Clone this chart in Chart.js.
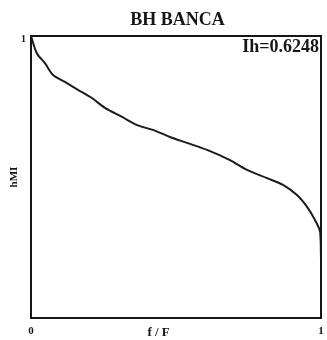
<!DOCTYPE html>
<html>
<head>
<meta charset="utf-8">
<script src="https://cdn.jsdelivr.net/npm/chart.js@4"></script>
<style>
html,body{margin:0;padding:0;background:#fff;}
#wrap{width:327px;height:340px;}
</style>
</head>
<body>
<div id="wrap"><canvas id="c" width="327" height="340"></canvas></div>
<script>
const titleText = "BH BANCA";
const annotationText = "Ih=0.6248";
const xLabel = "f / F";
const yLabel = "hMI";
const xTicks = [0, 1];
const yTicks = [1];
const xValues = [0, 0.02, 0.048, 0.076, 0.117, 0.162, 0.21, 0.255, 0.314, 0.366, 0.42, 0.479, 0.538, 0.607, 0.686, 0.745, 0.814, 0.869, 0.917, 0.952, 0.979, 0.997, 1.0];
const yValues = [1.0, 0.939, 0.904, 0.862, 0.837, 0.809, 0.78, 0.745, 0.713, 0.684, 0.667, 0.642, 0.621, 0.596, 0.56, 0.525, 0.496, 0.472, 0.436, 0.394, 0.348, 0.305, 0.21];

const ink = '#161616';
const serif = '"Liberation Serif", "DejaVu Serif", serif';

const framePlugin = {
  id: 'frame',
  afterDraw(chart) {
    const {ctx, chartArea: a} = chart;
    ctx.save();
    ctx.strokeStyle = ink;
    ctx.lineWidth = 2;
    ctx.strokeRect(a.left, a.top, a.right - a.left, a.bottom - a.top);
    ctx.fillStyle = ink;
    ctx.textBaseline = 'alphabetic';
    ctx.font = 'bold 18px ' + serif;
    ctx.textAlign = 'right';
    ctx.fillText(annotationText, a.right - 2, a.top + 16);
    ctx.font = 'bold 18px ' + serif;
    ctx.textAlign = 'center';
    ctx.fillText(titleText, a.left + (a.right - a.left) * 0.505, 25);
    ctx.font = 'bold 13px ' + serif;
    ctx.fillText(xLabel, a.left + (a.right - a.left) * 0.44, 336);
    ctx.restore();
  }
};

new Chart(document.getElementById('c'), {
  type: 'line',
  data: {
    datasets: [{
      data: xValues.map((x, i) => ({x: x, y: yValues[i]})),
      borderColor: '#1a1a26',
      borderWidth: 2,
      pointRadius: 0,
      tension: 0.3,
      fill: false
    }]
  },
  options: {
    responsive: false,
    animation: false,
    layout: {padding: {left: 0, right: 6, top: 36, bottom: 0}},
    plugins: {
      legend: {display: false},
      tooltip: {enabled: false},
      title: {display: false}
    },
    scales: {
      x: {
        type: 'linear',
        min: 0, max: 1,
        grid: {display: false, drawTicks: false},
        border: {display: false},
        afterBuildTicks(s) { s.ticks = xTicks.map(v => ({value: v})); },
        afterFit(s) { s.height = 22; s.paddingLeft = 0; s.paddingRight = 0; },
        ticks: {
          color: ink,
          padding: 7,
          font: {family: serif, size: 11, weight: 'bold'},
          callback: v => String(v)
        },
        title: {display: false}
      },
      y: {
        type: 'linear',
        min: 0, max: 1,
        grid: {display: false, drawTicks: false},
        border: {display: false},
        afterBuildTicks(s) { s.ticks = yTicks.map(v => ({value: v})); },
        afterFit(s) { s.width = 31; s.paddingTop = 0; s.paddingBottom = 0; },
        ticks: {
          color: ink,
          padding: 5,
          labelOffset: 3,
          font: {family: serif, size: 10, weight: 'bold'},
          callback: v => String(v)
        },
        title: {
          display: true,
          text: yLabel,
          color: ink,
          font: {family: serif, size: 11, weight: 'bold'},
          padding: {top: 8, bottom: 0}
        }
      }
    }
  },
  plugins: [framePlugin]
});
</script>
</body>
</html>
